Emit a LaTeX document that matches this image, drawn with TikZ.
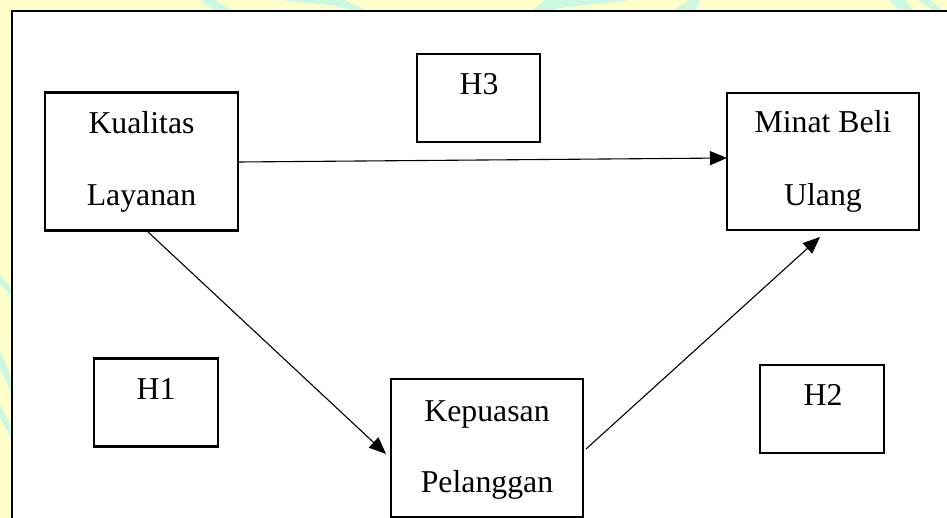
\documentclass[tikz,border=0pt]{standalone}
\usepackage{fontspec}
\setmainfont{Liberation Serif}
\usetikzlibrary{arrows.meta}
\definecolor{bgyellow}{HTML}{FFFFCC}
\definecolor{wmgreen}{HTML}{CCF7E0}
\tikzset{
  boxshape/.style={draw=black, line width=1.3pt, fill=white, inner sep=0pt},
  lbl/.style={inner sep=0pt, font=\fontsize{15.9}{19}\selectfont},
  conn/.style={line width=0.55pt, -{Triangle[length=8.5pt,width=7pt]}},
  wm/.style={fill=wmgreen, draw=none}
}
\begin{document}
\begin{tikzpicture}[x=0.5pt,y=-0.5pt]
\useasboundingbox (0,0) rectangle (947,518);
\clip (0,0) rectangle (947,518);
% background
\fill[bgyellow] (0,0) rectangle (947,518);
% watermark hints
\fill[wm] (200,0) -- (215,0) -- (235,12) -- (218,12) -- cycle;
\fill[wm] (258,0) -- (345,0) -- (370,12) -- (362,12) -- (330,5) -- (280,0) -- cycle;
\fill[wm] (530,12) -- (545,0) -- (630,0) -- (560,8) -- (548,12) -- cycle;
\fill[wm] (670,12) -- (690,0) -- (700,0) -- (695,12) -- cycle;
\fill[wm] (890,0) -- (905,0) -- (915,12) -- (900,12) -- cycle;
\fill[wm] (918,0) -- (930,0) -- (945,12) -- (935,12) -- cycle;
\fill[wm] (0,275) .. controls (6,280) and (10,285) .. (12,292) -- (12,300) .. controls (8,292) and (4,287) .. (0,284) -- cycle;
\fill[wm] (0,350) -- (12,380) -- (12,395) -- (0,368) -- cycle;
\fill[wm] (0,405) -- (12,428) -- (12,440) -- (0,418) -- cycle;
% frame
\fill[white] (12,11) rectangle (960,530);
\draw[line width=1.2pt] (12,530) -- (12,11) -- (960,11);
% boxes
\node[boxshape, minimum width=96.5pt, minimum height=69pt] (kl) at (141.5,161.5) {};
\node[boxshape, minimum width=96pt, minimum height=68.5pt] (mb) at (823,161.5) {};
\node[boxshape, minimum width=96pt, minimum height=69pt] (kp) at (487,448) {};
\node[boxshape, minimum width=62pt, minimum height=44pt] (h1) at (156,402.5) {};
\node[boxshape, minimum width=62pt, minimum height=44pt] (h2) at (822,409) {};
\node[boxshape, minimum width=61.5pt, minimum height=44pt] (h3) at (478.5,98) {};
% texts
\node[lbl, anchor=base] (kl1) at (141.5,134) {Kualitas};
\node[lbl, anchor=base] (kl2) at (141.5,205.5) {Layanan};
\node[lbl, anchor=base] (mb1) at (823,133) {Minat Beli};
\node[lbl, anchor=base] (mb2) at (823,205.5) {Ulang};
\node[lbl, anchor=base] (kp1) at (487,421) {Kepuasan};
\node[lbl, anchor=base] (kp2) at (487,492.5) {Pelanggan};
\node[lbl, anchor=base] (h1t) at (156,399) {H1};
\node[lbl, anchor=base] (h2t) at (823,405.5) {H2};
\node[lbl, anchor=base] (h3t) at (479,94.5) {H3};
% connectors
\coordinate (a1s) at (238.5,162);
\coordinate (a1e) at (727,158);
\coordinate (a2s) at (147,231);
\coordinate (a2e) at (386,454);
\coordinate (a3s) at (586,449);
\coordinate (a3e) at (820,237);
\draw[conn] (a1s) -- (a1e);
\draw[conn] (a2s) -- (a2e);
\draw[conn] (a3s) -- (a3e);
\end{tikzpicture}
\end{document}
